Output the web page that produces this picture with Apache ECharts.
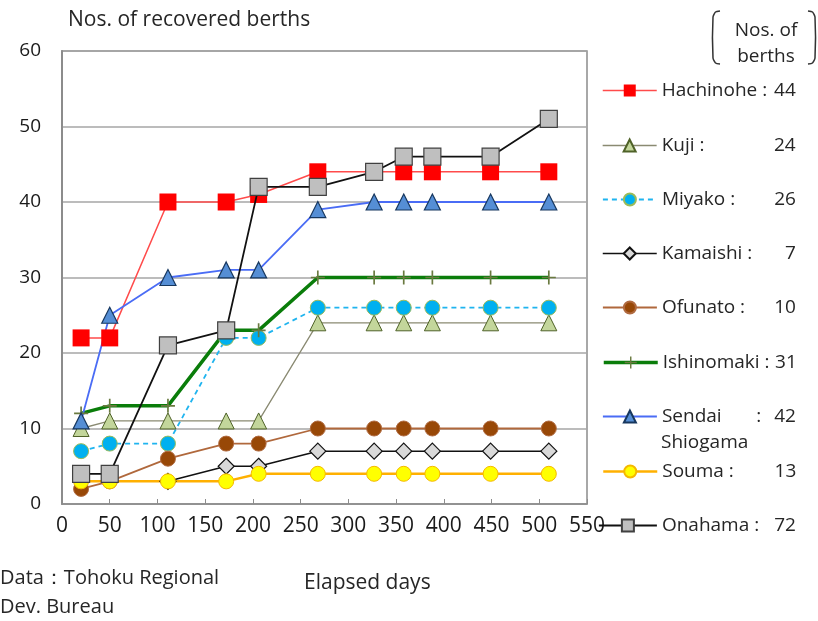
<!DOCTYPE html>
<html>
<head>
<meta charset="utf-8">
<script src="https://cdn.jsdelivr.net/npm/echarts@6/dist/echarts.min.js"></script>
<style>
  html, body { margin: 0; padding: 0; background: #fff; }
  #chart { width: 818px; height: 621px; }
</style>
</head>
<body>
<div id="chart"></div>
<script>
// elapsed days of each survey
const days = [20, 50, 111, 172, 206, 268, 327, 358, 388, 449, 510];

const hachinohe = [22, 22, 40, 40, 41, 44, 44, 44, 44, 44, 44];
const kuji      = [10, 11, 11, 11, 11, 24, 24, 24, 24, 24, 24];
const miyako    = [7, 8, 8, 22, 22, 26, 26, 26, 26, 26, 26];
const kamaishi  = [null, null, 3, 5, 5, 7, 7, 7, 7, 7, 7];
const ofunato   = [2, 3, 6, 8, 8, 10, 10, 10, 10, 10, 10];
const ishinomaki = [12, 13, 13, 23, 23, 30, 30, 30, 30, 30, 30];
const sendai    = [11, 25, 30, 31, 31, 39, 40, 40, 40, 40, 40];
const souma     = [3, 3, 3, 3, 4, 4, 4, 4, 4, 4, 4];
const onahama   = [4, 4, 21, 23, 42, 42, 44, 46, 46, 46, 51];

const portNames = ['Hachinohe', 'Kuji', 'Miyako', 'Kamaishi', 'Ofunato', 'Ishinomaki', 'Sendai Shiogama', 'Souma', 'Onahama'];
const berths = [44, 24, 26, 7, 10, 31, 42, 13, 72];

const FONT = 'Open Sans';
const chart = echarts.init(document.getElementById('chart'));

const pair = (vals) => days.map((d, i) => [d, vals[i]]);

function makeSeries(name, vals, line, sym) {
  return {
    name: name,
    type: 'line',
    data: pair(vals),
    symbol: sym.symbol,
    symbolSize: sym.size,
    lineStyle: line,
    itemStyle: sym.style,
    showAllSymbol: true,
    connectNulls: false,
    z: sym.z || 2
  };
}

const plus = 'path://M4.4,0h1.2v10h-1.2z M0,4.4h10v1.2h-10z';

const series = [
  makeSeries(portNames[0], hachinohe, { color: '#ff4b4b', width: 1.5 },
    { symbol: 'rect', size: 17, style: { color: '#ff0000', borderWidth: 0 } }),
  makeSeries(portNames[1], kuji, { color: '#8a8a72', width: 1.3 },
    { symbol: 'triangle', size: 16, style: { color: '#c3d69b', borderColor: '#4f6228', borderWidth: 1 } }),
  makeSeries(portNames[2], miyako, { color: '#1fb4ef', width: 1.8, type: [5, 4] },
    { symbol: 'circle', size: 15, style: { color: '#00b0f0', borderColor: '#9bbb59', borderWidth: 1 } }),
  makeSeries(portNames[3], kamaishi, { color: '#111111', width: 1.5 },
    { symbol: 'diamond', size: 16, style: { color: '#d9d9d9', borderColor: '#111111', borderWidth: 1.2 } }),
  makeSeries(portNames[4], ofunato, { color: '#b0683c', width: 1.8 },
    { symbol: 'circle', size: 15, style: { color: '#984807', borderColor: '#b06a40', borderWidth: 1 } }),
  makeSeries(portNames[5], ishinomaki, { color: '#0a7d0a', width: 3.5 },
    { symbol: plus, size: 14, style: { color: '#6a7a40' } }),
  makeSeries(portNames[6], sendai, { color: '#4a6cf5', width: 1.8 },
    { symbol: 'triangle', size: 16, style: { color: '#558ed5', borderColor: '#17375e', borderWidth: 1.2 } }),
  makeSeries(portNames[7], souma, { color: '#ffb000', width: 2.5 },
    { symbol: 'circle', size: 15, style: { color: '#ffff00', borderColor: '#f5b800', borderWidth: 1 } }),
  makeSeries(portNames[8], onahama, { color: '#111111', width: 1.8 },
    { symbol: 'rect', size: 17, style: { color: '#bfbfbf', borderColor: '#404040', borderWidth: 1.2 }, z: 3 })
];

// one legend per port so every entry sits on its own row
const legendY = [89, 144, 198, 252, 306, 361, 415, 470, 524];
const legendText = ['Hachinohe :', 'Kuji :', 'Miyako :', 'Kamaishi :', 'Ofunato :', 'Ishinomaki :', 'Sendai       :', 'Souma :', 'Onahama :'];
const legends = portNames.map((n, i) => ({
  data: [n],
  left: i === 8 ? 598 : 602,
  top: legendY[i] - 8,
  padding: 0,
  orient: 'vertical',
  itemWidth: i === 8 ? 58 : 54,
  itemHeight: 15,
  itemGap: 0,
  selectedMode: false,
  lineStyle: { width: series[i].lineStyle.width },
  formatter: () => '{n|' + legendText[i] + '}{v|' + berths[i] + '}',
  textStyle: {
    rich: {
      n: { fontFamily: FONT, fontSize: 19, color: '#262626', width: 112, lineHeight: 22 },
      v: { fontFamily: FONT, fontSize: 19, color: '#262626', width: 22, align: 'right', lineHeight: 22 }
    }
  }
}));

const bracketL = [[720, 11], [715.5, 12], [713, 17], [713, 58], [715.5, 63], [720, 64]];
const bracketR = [[808, 11], [812.5, 12], [815, 17], [815, 58], [812.5, 63], [808, 64]];

const txt = (s, x, y, size, align) => ({
  type: 'text', x: x, y: y,
  style: { text: s, font: size + 'px "' + FONT + '"', fill: '#262626', align: align || 'left', verticalAlign: 'middle' }
});

const option = {
  animation: false,
  backgroundColor: '#ffffff',
  grid: {
    left: 62, top: 51, width: 525, height: 453,
    show: true, borderColor: '#8c8c8c', borderWidth: 1.5
  },
  xAxis: {
    type: 'value', min: 0, max: 550, interval: 50,
    axisLine: { show: true, lineStyle: { color: '#8c8c8c', width: 1.5 } },
    axisTick: { show: true, inside: true, length: 5, lineStyle: { color: '#8c8c8c' } },
    axisLabel: { fontFamily: FONT, fontSize: 21, color: '#1a1a1a', margin: 12 },
    splitLine: { show: false }
  },
  yAxis: {
    type: 'value', min: 0, max: 60, interval: 10,
    axisLine: { show: true, lineStyle: { color: '#8c8c8c', width: 2 } },
    axisTick: { show: false },
    axisLabel: { fontFamily: FONT, fontSize: 19, color: '#1a1a1a', margin: 21 },
    splitLine: { show: true, lineStyle: { color: '#a6a6a6', width: 1.5 } }
  },
  legend: legends,
  graphic: [
    txt('Nos. of recovered berths', 68, 20, 21),
    txt('Elapsed days', 304, 583, 21),
    txt('Data：Tohoku Regional', 0, 578, 20),
    txt('Dev. Bureau', 0, 607, 20),
    txt('Shiogama', 661, 443, 19),
    txt('Nos. of', 766, 31, 19, 'center'),
    txt('berths', 766, 57, 19, 'center'),
    { type: 'polyline', shape: { points: bracketL, smooth: 0.2 }, style: { stroke: '#333', lineWidth: 1.5, fill: null } },
    { type: 'polyline', shape: { points: bracketR, smooth: 0.2 }, style: { stroke: '#333', lineWidth: 1.5, fill: null } }
  ],
  series: series
};

chart.setOption(option);
</script>
</body>
</html>
